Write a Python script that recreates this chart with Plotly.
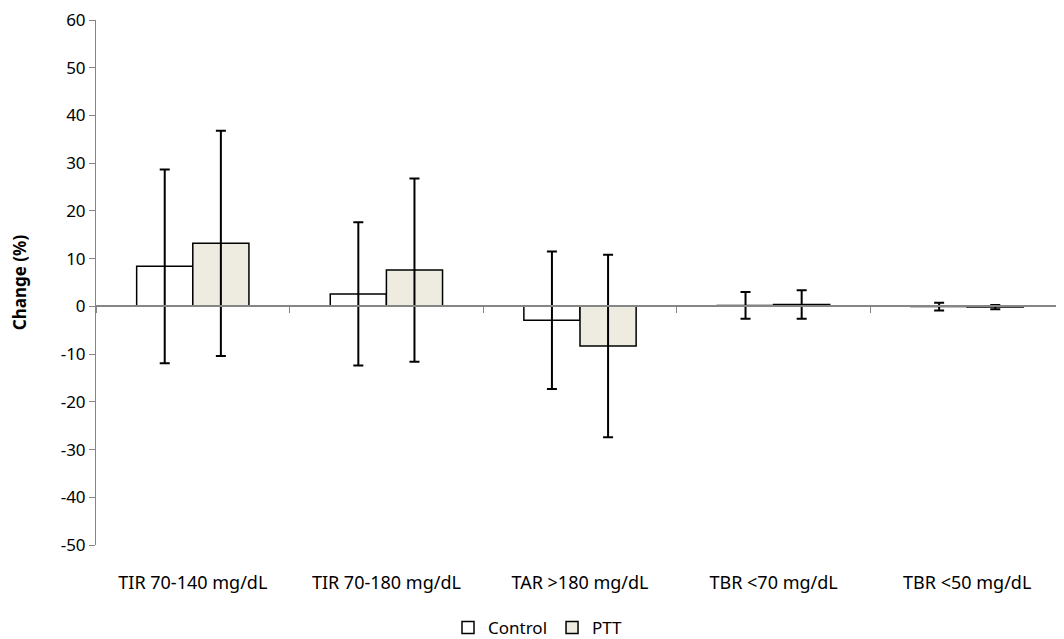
import plotly.graph_objects as go

categories = ["TIR 70-140 mg/dL", "TIR 70-180 mg/dL", "TAR >180 mg/dL", "TBR <70 mg/dL", "TBR <50 mg/dL"]
control_vals = [8.4, 2.6, -2.9, 0.2, -0.05]
control_sd = [20.3, 15.0, 14.4, 2.8, 0.8]
ptt_vals = [13.2, 7.6, -8.3, 0.4, -0.15]
ptt_sd = [23.6, 19.2, 19.1, 3.0, 0.45]
y_ticks = [-50, -40, -30, -20, -10, 0, 10, 20, 30, 40, 50, 60]
y_tick_text = [str(v) for v in y_ticks]

FONT = "Noto Sans"
AXIS_GREY = "#868686"

fig = go.Figure()
fig.add_trace(go.Bar(
    name="Control", x=categories, y=control_vals,
    marker=dict(color="#FFFFFF", line=dict(color="#000000", width=1.5)),
    error_y=dict(type="data", array=control_sd, color="#000000", thickness=2, width=5),
))
fig.add_trace(go.Bar(
    name="PTT", x=categories, y=ptt_vals,
    marker=dict(color="#EEECE1", line=dict(color="#000000", width=1.5)),
    error_y=dict(type="data", array=ptt_sd, color="#000000", thickness=2, width=5),
))
# helper trace for the zero-crossing category axis
fig.add_trace(go.Scatter(
    x=categories, y=[0] * len(categories), xaxis="x2", mode="markers",
    marker=dict(opacity=0), showlegend=False, hoverinfo="skip",
))

W, H = 1064, 639
ymin, ymax = -50, 60
fig.update_layout(
    width=W, height=H,
    paper_bgcolor="white", plot_bgcolor="white",
    margin=dict(l=88, r=8, t=12, b=102, autoexpand=False),
    barmode="group", bargap=0.42, bargroupgap=0,
    font=dict(family=FONT, size=17, color="#000000"),
    showlegend=True,
    legend=dict(orientation="h", xref="container", x=530 / W, xanchor="center",
                yref="container", y=19 / H, yanchor="middle",
                font=dict(family=FONT, size=17), itemwidth=30, tracegroupgap=0),
    xaxis=dict(
        type="category", showline=False, showgrid=False, zeroline=False,
        ticks="outside", ticklen=21, tickcolor="rgba(0,0,0,0)", tickangle=0,
        tickfont=dict(family=FONT, size=18), automargin=False,
    ),
    xaxis2=dict(
        type="category", overlaying="x", matches="x", anchor="free",
        position=(0 - ymin) / (ymax - ymin),
        showline=True, linecolor=AXIS_GREY, linewidth=2,
        ticks="outside", tickson="boundaries", ticklen=6, tickcolor=AXIS_GREY, tickwidth=1,
        showticklabels=False, showgrid=False, zeroline=False, side="bottom",
        automargin=False,
    ),
    yaxis=dict(
        range=[ymin, ymax], tickvals=y_ticks, ticktext=y_tick_text,
        showgrid=False, zeroline=False, automargin=False, ticklabeloverflow="allow",
        showline=True, linecolor=AXIS_GREY, linewidth=1,
        ticks="outside", ticklen=6, tickcolor=AXIS_GREY,
        tickfont=dict(family=FONT, size=17),
        title=dict(text="<b>Change (%)</b>", font=dict(family=FONT, size=17), standoff=31),
    ),
)

fig.write_html("out.html", config={"displayModeBar": False})
